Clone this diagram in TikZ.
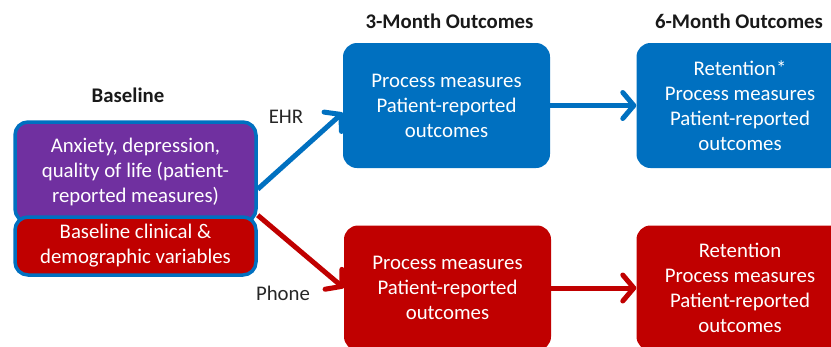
\documentclass[tikz,border=0pt]{standalone}
\usepackage{fontspec}
\setmainfont{Carlito}
\usepackage{xcolor}
\usepackage{tikz}
\usetikzlibrary{arrows.meta}
\definecolor{ehrblue}{HTML}{0070C0}
\definecolor{basepurple}{HTML}{7030A0}
\definecolor{phonered}{HTML}{C00000}
\newcommand{\boxfont}{\fontsize{20.8}{25}\selectfont}
\tikzset{
    box/.style = {rectangle, rounded corners=14pt, align=center, text=white, inner sep=0pt, minimum width=207pt, minimum height=125pt},
    blue_box/.style = {box, fill=ehrblue},
    red_box/.style = {box, fill=phonered},
    base_box/.style = {rectangle, rounded corners=13pt, align=center, text=white, inner sep=0pt, minimum width=241pt, draw=ehrblue, line width=3.5pt},
    head/.style = {font=\boxfont\bfseries, text=black!90},
    tag/.style = {text=black!85},
    link/.style = {line width=5pt, -{Straight Barb[round, length=11pt, width=26pt]}}
}
\begin{document}
\begin{tikzpicture}[x=1pt, y=-1pt, font=\boxfont]
            \useasboundingbox (0,0) rectangle (831,346);
            \clip (0,0) rectangle (831,346);
            % baseline column
            \node [head] (baseline) at (128,95) {Baseline};
            \node [base_box, fill=basepurple, minimum height=100pt] (anxiety) at (135.5,172) {Anxiety, depression,\\quality of life (patient-\\reported measures)};
            \node [base_box, fill=phonered, minimum height=58pt] (clinical) at (135.5,246) {Baseline clinical \&\\demographic variables};
            % outcome columns
            \node [head] (month3) at (449.5,21) {3-Month Outcomes};
            \node [head] (month6) at (739,21) {6-Month Outcomes};
            \node [blue_box] (ehr3) at (446.5,105.5) {Process measures\\Patient-reported\\outcomes};
            \node [blue_box] (ehr6) at (740,105.5) {Retention*\\Process measures\\Patient-reported\\outcomes};
            \node [red_box] (phone3) at (447.5,288) {Process measures\\Patient-reported\\outcomes};
            \node [red_box] (phone6) at (740,288) {Retention\\Process measures\\Patient-reported\\outcomes};
            % arms
            \node [tag] (ehr) at (286,117) {EHR};
            \node [tag] (phone) at (283,293) {Phone};
            \draw [link, ehrblue] (anxiety.-8) -- (ehr3.184);
            \draw [link, phonered] (clinical.north east) -- (phone3.west);
            \draw [link, ehrblue] (ehr3) -- (ehr6);
            \draw [link, phonered] (phone3) -- (phone6);
        \end{tikzpicture}
\end{document}
